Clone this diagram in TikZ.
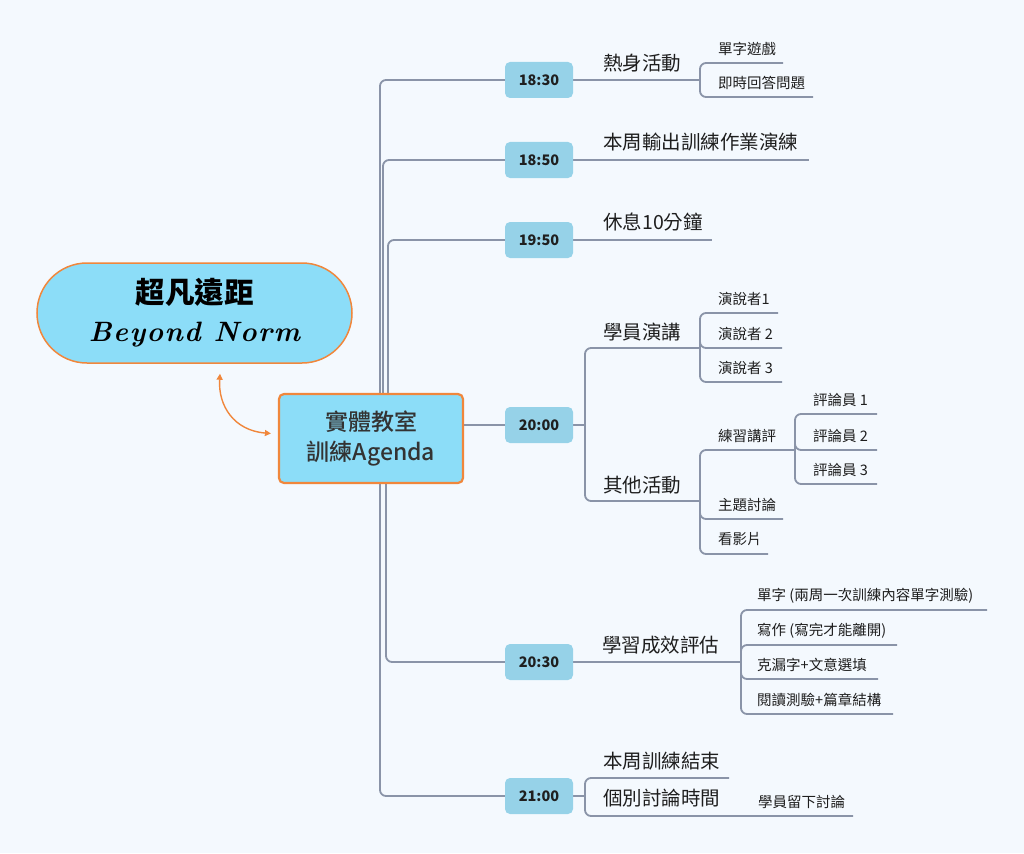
\documentclass[tikz,border=0pt]{standalone}
\usepackage{fontspec}
\setmainfont{Noto Sans CJK TC}
\newfontfamily\medfont{Noto Sans CJK TC Medium}
\newfontfamily\handfont{lmroman10-bolditalic.otf}[LetterSpace=5]
\usetikzlibrary{arrows.meta}

\definecolor{linecol}{RGB}{138,148,168}
\definecolor{timecol}{RGB}{150,210,232}
\definecolor{nodecol}{RGB}{140,221,248}
\definecolor{edgecol}{RGB}{240,135,60}
\definecolor{bgcol}{RGB}{244,249,254}
\definecolor{textcol}{RGB}{30,30,30}

\pgfdeclarelayer{back}
\pgfsetlayers{back,main}

\tikzset{
  rootbox/.style={fill=nodecol, draw=edgecol, line width=1.5pt, rounded corners=50pt,
    minimum width=315pt, minimum height=100pt, align=center,
    font=\fontsize{29.5}{38}\selectfont, text=black},
  centerbox/.style={fill=nodecol, draw=edgecol, line width=2.2pt, rounded corners=5pt,
    minimum width=184pt, minimum height=89pt, align=center,
    font=\medfont\fontsize{23}{30}\selectfont, text=black!80},
  timebox/.style={fill=timecol, rounded corners=5pt, minimum width=68pt, minimum height=36pt,
    inner sep=0pt, font=\bfseries\fontsize{14.5}{17}\selectfont, text=black!88},
  topic/.style={anchor=west, inner sep=0pt, font=\fontsize{19.5}{22}\selectfont, text=textcol},
  subtopic/.style={anchor=west, inner sep=0pt, font=\fontsize{14.5}{17}\selectfont, text=textcol},
  branch/.style={draw=linecol, line width=1.8pt, rounded corners=6pt},
  relarrow/.style={draw=edgecol, line width=1.4pt,
    {Triangle[length=6pt,width=6pt]}-{Triangle[length=6pt,width=6pt]}}
}

\begin{document}
\begin{tikzpicture}[x=1pt,y=-1pt]
\begin{pgfonlayer}{back}
\fill[bgcol] (0,0) rectangle (1024,853);
\end{pgfonlayer}
\useasboundingbox (0,0) rectangle (1024,853);

% main nodes
\node[rootbox] (root) at (194.5,313) {\bfseries 超凡遠距\\{\handfont\fontsize{28}{38}\selectfont Beyond Norm}};
\node[centerbox] (ctr) at (371,438.5) {實體教室\\訓練Agenda};

% time slots
\foreach \n/\t/\y in {a/18:30/80, b/18:50/160, c/19:50/240, d/20:00/425, e/20:30/662, f/21:00/796}
  \node[timebox] (\n) at (539,\y) {\t};

% topics
\node[topic] (ta) at (603,63) {熱身活動};
\node[topic] (tb) at (603,142) {本周輸出訓練作業演練};
\node[topic] (tc) at (603,222) {休息10分鐘};
\node[topic] (td1) at (603,332) {學員演講};
\node[topic] (td2) at (603,485) {其他活動};
\node[topic] (te) at (602,645) {學習成效評估};
\node[topic] (tf1) at (603,761) {本周訓練結束};
\node[topic] (tf2) at (603,798) {個別討論時間};

% junctions
\coordinate (ja) at (700,80);
\coordinate (kb) at (809,160);
\coordinate (kc) at (712,240);
\coordinate (jd) at (585,425);
\coordinate (jd1) at (700,348);
\coordinate (jd2) at (700,501);
\coordinate (jd3) at (795,450);
\coordinate (je) at (741,662);
\coordinate (jf) at (585,796);
\coordinate (kf) at (729,778);

% sub items
\foreach \n/\x/\t/\y/\e in {
  a1/718/單字遊戲/63/783, a2/718/即時回答問題/97/813,
  d1/718/演說者1/313/778, d2/718/演說者 2/348/782, d3/718/演說者 3/382/782,
  d4/718/練習講評/450/795, d5/718/主題討論/519/783, d6/718/看影片/554/768,
  d7/813/評論員 1/414/877, d8/813/評論員 2/450/877, d9/813/評論員 3/484/877,
  e1/757/單字 (兩周一次訓練內容單字測驗)/610/987, e2/757/寫作 (寫完才能離開)/645/897,
  e3/757/克漏字+文意選填/679/878, e4/757/閱讀測驗+篇章結構/714/893,
  f1/758/學員留下討論/816/853}
{ \node[subtopic] (s\n) at (\x,\y-14.5) {\t};
  \coordinate (u\n) at (\e,\y);
}

% connectors
\begin{pgfonlayer}{back}
\foreach \n/\dx in {a/9, b/12, c/17, e/15, f/9}
  \draw[branch] ([xshift=\dx pt]ctr.center) |- (\n.west);
\draw[branch] (ctr.east |- d.west) -- (d.west);
\draw[branch] (a.east) -- (ja);
\foreach \n in {a1,a2} \draw[branch] (ja) |- (u\n);
\draw[branch] (b.east) -- (kb);
\draw[branch] (c.east) -- (kc);
\draw[branch] (d.east) -- (jd);
\draw[branch] (jd) |- (jd1);
\draw[branch] (jd) |- (jd2);
\foreach \n in {d1,d2,d3} \draw[branch] (jd1) |- (u\n);
\foreach \n in {d4,d5,d6} \draw[branch] (jd2) |- (u\n);
\foreach \n in {d7,d8,d9} \draw[branch] (jd3) |- (u\n);
\draw[branch] (e.east) -- (je);
\foreach \n in {e1,e2,e3,e4} \draw[branch] (je) |- (u\n);
\draw[branch] (f.east) -- (jf);
\draw[branch] (jf) |- (kf);
\draw[branch] (jf) |- (uf1);
\end{pgfonlayer}

\draw[relarrow] ([xshift=25.5pt,yshift=-10pt]root.south) .. controls +(-2,32) and +(-37,-3) .. ([xshift=-7pt,yshift=5pt]ctr.west);
\end{tikzpicture}
\end{document}
